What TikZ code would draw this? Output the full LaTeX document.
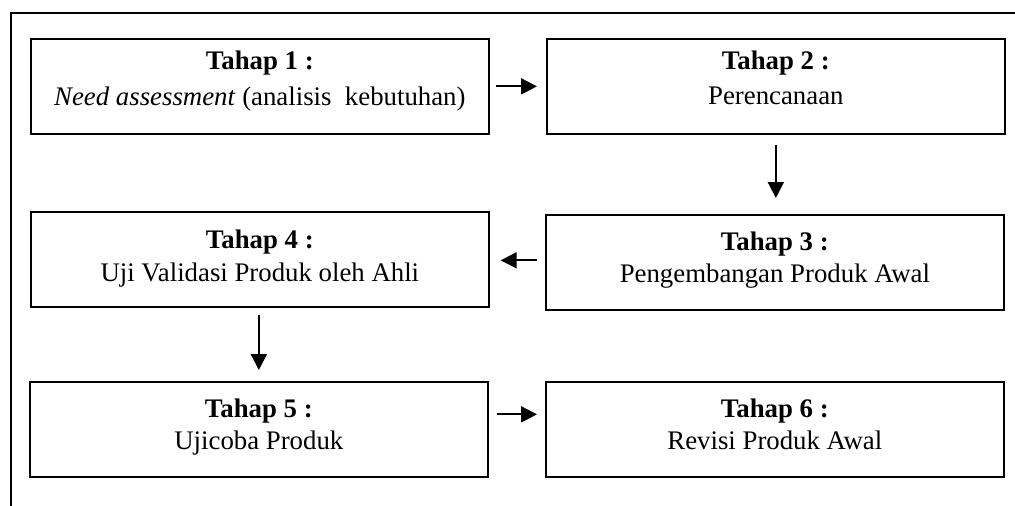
\documentclass[tikz,border=0pt]{standalone}
\usepackage{fontspec}
\setmainfont{Liberation Serif}
\usetikzlibrary{arrows.meta,calc}

\begin{document}
\begin{tikzpicture}[x=1pt,y=-1pt,
  frameline/.style={line width=1.5pt,black},
  stagebox/.style={draw=black,line width=1.7pt,anchor=north west,
    minimum width=458pt,minimum height=95pt,inner sep=0pt},
  head/.style={anchor=base,inner sep=0pt,font=\fontsize{26.8}{30}\selectfont\bfseries},
  desc/.style={anchor=base,inner sep=0pt,font=\fontsize{26.8}{30}\selectfont},
  flow/.style={line width=2pt,-{Triangle[length=16pt,width=16pt]}}]

\useasboundingbox (0,0) rectangle (1015,506);

% open outer frame (top and left sides)
\draw[frameline] (11,506) -- (11,13) -- (1015,13);

% stage boxes
\node[stagebox] (b1) at (30,38) {};
\node[stagebox] (b2) at (546,38) {};
\node[stagebox] (b3) at (545,214) {};
\node[stagebox] (b4) at (30,211) {};
\node[stagebox] (b5) at (29,381) {};
\node[stagebox] (b6) at (545,381) {};

% stage titles and descriptions
\node[head] (h1) at ([yshift=-31pt]b1.north) {Tahap 1 :};
\node[desc] (d1) at ([yshift=-67pt]b1.north) {\textit{Need assessment} (analisis\ \ kebutuhan)};
\node[head] (h2) at ([yshift=-31pt]b2.north) {Tahap 2 :};
\node[desc] (d2) at ([yshift=-66pt]b2.north) {Perencanaan};
\node[head] (h3) at ([yshift=-36pt]b3.north) {Tahap 3 :};
\node[desc] (d3) at ([yshift=-68pt]b3.north) {Pengembangan Produk Awal};
\node[head] (h4) at ([yshift=-37pt]b4.north) {Tahap 4 :};
\node[desc] (d4) at ([yshift=-70pt]b4.north) {Uji Validasi Produk oleh Ahli};
\node[head] (h5) at ([yshift=-36pt]b5.north) {Tahap 5 :};
\node[desc] (d5) at ([yshift=-68pt]b5.north) {Ujicoba Produk};
\node[head] (h6) at ([yshift=-36pt]b6.north) {Tahap 6 :};
\node[desc] (d6) at ([yshift=-68pt]b6.north) {Revisi Produk Awal};

% connectors between stages
\draw[flow,shorten <=6pt,shorten >=9pt] (b1.east) -- (b1.east -| b2.west);
\draw[flow,shorten <=10pt,shorten >=16pt] (b2.south) -- (b2.south |- b3.north);
\draw[flow,shorten <=8pt,shorten >=11pt] ([yshift=2pt]b3.west) -- ([yshift=2pt]b3.west -| b4.east);
\draw[flow,shorten <=7pt,shorten >=11pt] ([xshift=-1pt]b4.south) -- ([xshift=-1pt]b4.south |- b5.north);
\draw[flow,shorten <=8pt,shorten >=8pt] ([yshift=15pt]b5.east) -- ([yshift=15pt]b5.east -| b6.west);

\end{tikzpicture}
\end{document}
